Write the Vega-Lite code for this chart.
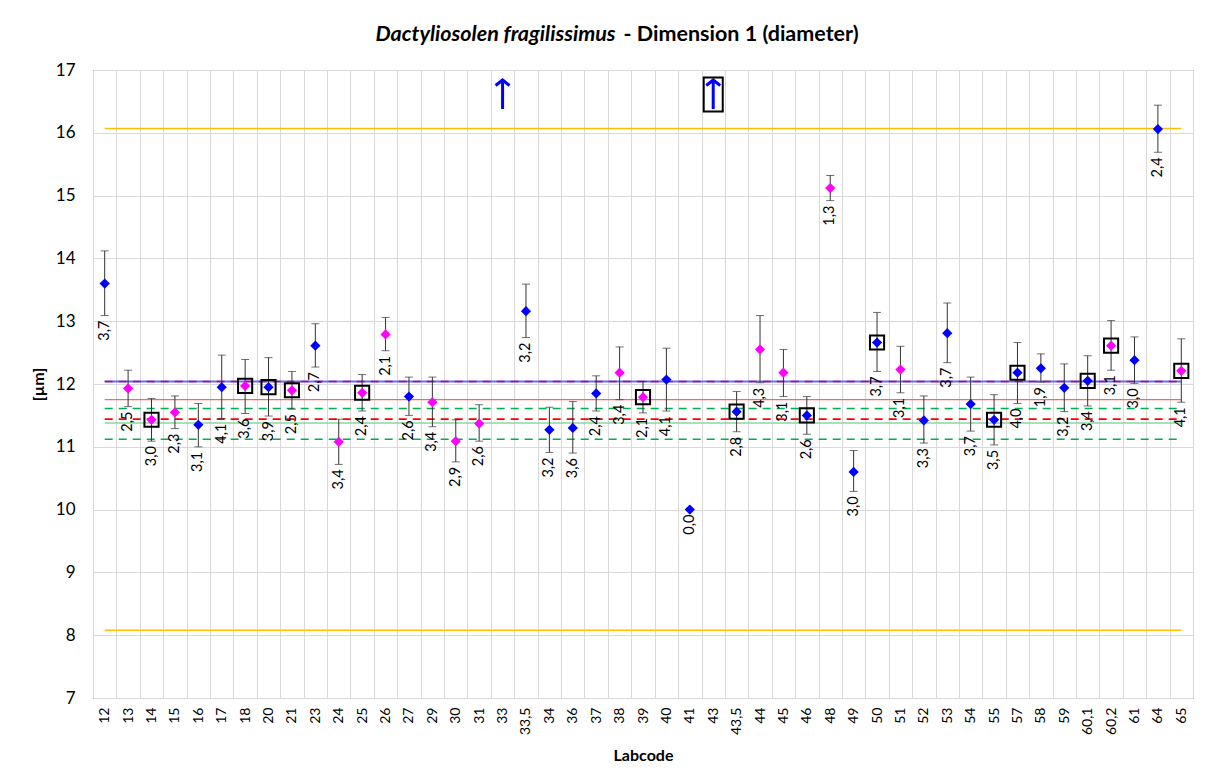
{
  "$schema": "https://vega.github.io/schema/vega-lite/v6.json",
  "width": 1100,
  "height": 628,
  "autosize": {"type": "none"},
  "padding": {"left": 93, "top": 70, "right": 13, "bottom": 86},
  "background": "white",
  "config": {
    "font": "Lato",
    "view": {"stroke": "#595959", "strokeWidth": 1},
    "axisX": {"labelAngle": 270, "labelFontSize": 14, "labelColor": "#000000", "labelPadding": 9, "tickBand": "extent", "ticks": false, "grid": true, "gridColor": "#D9D9D9", "domain": false, "titleFontSize": 16, "titleFontWeight": "bold", "titleColor": "#000000", "titlePadding": 13},
    "axisY": {"tickCount": 10, "labelFontSize": 17, "labelColor": "#000000", "labelPadding": 18, "ticks": false, "grid": true, "gridColor": "#D9D9D9", "domain": false, "titleFontSize": 16, "titleFontWeight": "bold", "titleColor": "#000000", "titlePadding": 9}
  },
  "datasets": {
    "pts": [
      {"lab": "12", "v": 13.60, "lo": 13.09, "hi": 14.12, "grp": "b", "box": 0, "u": "3,7"},
      {"lab": "13", "v": 11.93, "lo": 11.64, "hi": 12.22, "grp": "m", "box": 0, "u": "2,5"},
      {"lab": "14", "v": 11.43, "lo": 11.09, "hi": 11.77, "grp": "m", "box": 1, "u": "3,0"},
      {"lab": "15", "v": 11.55, "lo": 11.29, "hi": 11.81, "grp": "m", "box": 0, "u": "2,3"},
      {"lab": "16", "v": 11.35, "lo": 11.00, "hi": 11.69, "grp": "b", "box": 0, "u": "3,1"},
      {"lab": "17", "v": 11.95, "lo": 11.45, "hi": 12.46, "grp": "b", "box": 0, "u": "4,1"},
      {"lab": "18", "v": 11.97, "lo": 11.53, "hi": 12.39, "grp": "m", "box": 1, "u": "3,6"},
      {"lab": "20", "v": 11.95, "lo": 11.49, "hi": 12.42, "grp": "b", "box": 1, "u": "3,9"},
      {"lab": "21", "v": 11.90, "lo": 11.60, "hi": 12.20, "grp": "m", "box": 1, "u": "2,5"},
      {"lab": "23", "v": 12.61, "lo": 12.27, "hi": 12.96, "grp": "b", "box": 0, "u": "2,7"},
      {"lab": "24", "v": 11.08, "lo": 10.72, "hi": 11.44, "grp": "m", "box": 0, "u": "3,4"},
      {"lab": "25", "v": 11.86, "lo": 11.57, "hi": 12.15, "grp": "m", "box": 1, "u": "2,4"},
      {"lab": "26", "v": 12.79, "lo": 12.53, "hi": 13.06, "grp": "m", "box": 0, "u": "2,1"},
      {"lab": "27", "v": 11.80, "lo": 11.50, "hi": 12.11, "grp": "b", "box": 0, "u": "2,6"},
      {"lab": "29", "v": 11.71, "lo": 11.32, "hi": 12.11, "grp": "m", "box": 0, "u": "3,4"},
      {"lab": "30", "v": 11.09, "lo": 10.76, "hi": 11.43, "grp": "m", "box": 0, "u": "2,9"},
      {"lab": "31", "v": 11.37, "lo": 11.09, "hi": 11.67, "grp": "m", "box": 0, "u": "2,6"},
      {"lab": "33,5", "v": 13.16, "lo": 12.74, "hi": 13.59, "grp": "b", "box": 0, "u": "3,2"},
      {"lab": "34", "v": 11.27, "lo": 10.91, "hi": 11.63, "grp": "b", "box": 0, "u": "3,2"},
      {"lab": "36", "v": 11.30, "lo": 10.90, "hi": 11.72, "grp": "b", "box": 0, "u": "3,6"},
      {"lab": "37", "v": 11.85, "lo": 11.57, "hi": 12.13, "grp": "b", "box": 0, "u": "2,4"},
      {"lab": "38", "v": 12.18, "lo": 11.75, "hi": 12.59, "grp": "m", "box": 0, "u": "3,4"},
      {"lab": "39", "v": 11.79, "lo": 11.54, "hi": 12.04, "grp": "m", "box": 1, "u": "2,1"},
      {"lab": "40", "v": 12.07, "lo": 11.57, "hi": 12.57, "grp": "b", "box": 0, "u": "4,1"},
      {"lab": "41", "v": 10.00, "lo": 10.00, "hi": 10.00, "grp": "b", "box": 0, "u": "0,0"},
      {"lab": "43,5", "v": 11.56, "lo": 11.24, "hi": 11.88, "grp": "b", "box": 1, "u": "2,8"},
      {"lab": "44", "v": 12.55, "lo": 12.02, "hi": 13.09, "grp": "m", "box": 0, "u": "4,3"},
      {"lab": "45", "v": 12.18, "lo": 11.80, "hi": 12.55, "grp": "m", "box": 0, "u": "3,1"},
      {"lab": "46", "v": 11.50, "lo": 11.20, "hi": 11.80, "grp": "b", "box": 1, "u": "2,6"},
      {"lab": "48", "v": 15.12, "lo": 14.92, "hi": 15.32, "grp": "m", "box": 0, "u": "1,3"},
      {"lab": "49", "v": 10.60, "lo": 10.29, "hi": 10.94, "grp": "b", "box": 0, "u": "3,0"},
      {"lab": "50", "v": 12.66, "lo": 12.20, "hi": 13.14, "grp": "b", "box": 1, "u": "3,7"},
      {"lab": "51", "v": 12.23, "lo": 11.86, "hi": 12.60, "grp": "m", "box": 0, "u": "3,1"},
      {"lab": "52", "v": 11.42, "lo": 11.06, "hi": 11.81, "grp": "b", "box": 0, "u": "3,3"},
      {"lab": "53", "v": 12.81, "lo": 12.34, "hi": 13.29, "grp": "b", "box": 0, "u": "3,7"},
      {"lab": "54", "v": 11.68, "lo": 11.25, "hi": 12.11, "grp": "b", "box": 0, "u": "3,7"},
      {"lab": "55", "v": 11.43, "lo": 11.03, "hi": 11.83, "grp": "b", "box": 1, "u": "3,5"},
      {"lab": "57", "v": 12.18, "lo": 11.69, "hi": 12.66, "grp": "b", "box": 1, "u": "4,0"},
      {"lab": "58", "v": 12.25, "lo": 12.03, "hi": 12.48, "grp": "b", "box": 0, "u": "1,9"},
      {"lab": "59", "v": 11.94, "lo": 11.56, "hi": 12.32, "grp": "b", "box": 0, "u": "3,2"},
      {"lab": "60,1", "v": 12.05, "lo": 11.65, "hi": 12.45, "grp": "b", "box": 1, "u": "3,4"},
      {"lab": "60,2", "v": 12.61, "lo": 12.22, "hi": 13.01, "grp": "m", "box": 1, "u": "3,1"},
      {"lab": "61", "v": 12.38, "lo": 12.01, "hi": 12.75, "grp": "b", "box": 0, "u": "3,0"},
      {"lab": "64", "v": 16.06, "lo": 15.69, "hi": 16.44, "grp": "b", "box": 0, "u": "2,4"},
      {"lab": "65", "v": 12.21, "lo": 11.71, "hi": 12.72, "grp": "m", "box": 1, "u": "4,1"}
    ],
    "arrows": [
      {"lab": "33", "v": 16.61, "box": 0},
      {"lab": "43", "v": 16.61, "box": 1}
    ],
    "refs": [
      {"line": "o1", "lab": "12", "v": 16.07}, {"line": "o1", "lab": "65", "v": 16.07},
      {"line": "o2", "lab": "12", "v": 8.08}, {"line": "o2", "lab": "65", "v": 8.08},
      {"line": "mean", "lab": "12", "v": 12.04}, {"line": "mean", "lab": "65", "v": 12.04},
      {"line": "rs", "lab": "12", "v": 11.75}, {"line": "rs", "lab": "65", "v": 11.75},
      {"line": "g1", "lab": "12", "v": 11.61}, {"line": "g1", "lab": "65", "v": 11.61},
      {"line": "rd", "lab": "12", "v": 11.44}, {"line": "rd", "lab": "65", "v": 11.44},
      {"line": "gs", "lab": "12", "v": 11.38}, {"line": "gs", "lab": "65", "v": 11.38},
      {"line": "g2", "lab": "12", "v": 11.12}, {"line": "g2", "lab": "65", "v": 11.12}
    ],
    "titles": [
      {"lab": "38", "v": 17, "part": "a", "t": "Dactyliosolen fragilissimus"},
      {"lab": "38", "v": 17, "part": "b", "t": "- Dimension 1 (diameter)"}
    ]
  },
  "encoding": {
    "x": {"field": "lab", "type": "nominal", "title": "Labcode", "sort": null,
      "scale": {"domain": ["12","13","14","15","16","17","18","20","21","23","24","25","26","27","29","30","31","33","33,5","34","36","37","38","39","40","41","43","43,5","44","45","46","48","49","50","51","52","53","54","55","57","58","59","60,1","60,2","61","64","65"], "paddingInner": 0, "paddingOuter": 0}},
    "y": {"field": "v", "type": "quantitative", "title": "[µm]", "scale": {"domain": [7, 17], "nice": false, "zero": false}}
  },
  "layer": [
    {"data": {"name": "refs"}, "transform": [{"filter": "datum.line === 'o1' || datum.line === 'o2'"}],
     "mark": {"type": "line", "color": "#FFC000", "strokeWidth": 1.5}, "encoding": {"detail": {"field": "line"}}},
    {"data": {"name": "refs"}, "transform": [{"filter": "datum.line === 'mean'"}],
     "mark": {"type": "line", "color": "#6B6BFF", "strokeWidth": 2}, "encoding": {}},
    {"data": {"name": "refs"}, "transform": [{"filter": "datum.line === 'rs'"}],
     "mark": {"type": "line", "color": "#FF6464", "strokeWidth": 1.2}, "encoding": {}},
    {"data": {"name": "refs"}, "transform": [{"filter": "datum.line === 'gs'"}],
     "mark": {"type": "line", "color": "#8AD6A4", "strokeWidth": 1.5}, "encoding": {}},
    {"data": {"name": "refs"}, "transform": [{"filter": "datum.line === 'g1' || datum.line === 'g2'"}],
     "mark": {"type": "line", "color": "#00B050", "strokeWidth": 1.6, "strokeDash": [8, 6]}, "encoding": {"detail": {"field": "line"}}},
    {"data": {"name": "refs"}, "transform": [{"filter": "datum.line === 'rd'"}],
     "mark": {"type": "line", "color": "#FF0000", "strokeWidth": 1.6, "strokeDash": [8, 6]}, "encoding": {}},
    {"data": {"name": "refs"}, "transform": [{"filter": "datum.line === 'mean'"}],
     "mark": {"type": "line", "color": "#D0004A", "strokeWidth": 1.5, "strokeDash": [8, 6]}, "encoding": {}},
    {"data": {"name": "pts"}, "mark": {"type": "rule", "color": "#333333", "strokeWidth": 1},
     "encoding": {"y": {"field": "lo", "type": "quantitative", "title": "[µm]"}, "y2": {"field": "hi"}}},
    {"data": {"name": "pts"}, "mark": {"type": "tick", "color": "#333333", "size": 8, "thickness": 1},
     "encoding": {"y": {"field": "lo", "type": "quantitative", "title": "[µm]"}}},
    {"data": {"name": "pts"}, "mark": {"type": "tick", "color": "#333333", "size": 8, "thickness": 1},
     "encoding": {"y": {"field": "hi", "type": "quantitative", "title": "[µm]"}}},
    {"data": {"name": "pts"}, "transform": [{"filter": "datum.box === 1"}],
     "mark": {"type": "point", "shape": "square", "size": 200, "filled": false, "stroke": "#000000", "strokeWidth": 2, "opacity": 1}, "encoding": {}},
    {"data": {"name": "pts"},
     "mark": {"type": "point", "shape": "diamond", "size": 105, "filled": true, "opacity": 1, "strokeWidth": 0},
     "encoding": {"color": {"field": "grp", "type": "nominal", "scale": {"domain": ["b", "m"], "range": ["#0000FF", "#FF00FF"]}, "legend": null}}},
    {"data": {"name": "pts"},
     "mark": {"type": "text", "angle": 270, "align": "right", "baseline": "middle", "dx": -5, "fontSize": 14.5, "color": "#000000"},
     "encoding": {"y": {"field": "lo", "type": "quantitative", "title": "[µm]"}, "text": {"field": "u"}}},
    {"data": {"name": "arrows"},
     "mark": {"type": "point", "shape": "M0,1L0,-1M-0.48,-0.62L0,-1L0.48,-0.62", "size": 841, "filled": false, "stroke": "#0000FF", "strokeWidth": 3, "opacity": 1}, "encoding": {}},
    {"data": {"name": "arrows"}, "transform": [{"filter": "datum.box === 1"}],
     "mark": {"type": "point", "shape": "M-0.56,-1L0.56,-1L0.56,1L-0.56,1Z", "size": 1156, "filled": false, "stroke": "#000000", "strokeWidth": 2, "opacity": 1}, "encoding": {}},
    {"data": {"name": "titles"}, "transform": [{"filter": "datum.part === 'a'"}],
     "mark": {"type": "text", "align": "right", "baseline": "middle", "dx": -4, "dy": -35, "fontSize": 21.5, "fontWeight": "bold", "fontStyle": "italic", "color": "#000000"},
     "encoding": {"text": {"field": "t"}}},
    {"data": {"name": "titles"}, "transform": [{"filter": "datum.part === 'b'"}],
     "mark": {"type": "text", "align": "left", "baseline": "middle", "dx": 4, "dy": -35, "fontSize": 21.5, "fontWeight": "bold", "color": "#000000"},
     "encoding": {"text": {"field": "t"}}}
  ]
}
